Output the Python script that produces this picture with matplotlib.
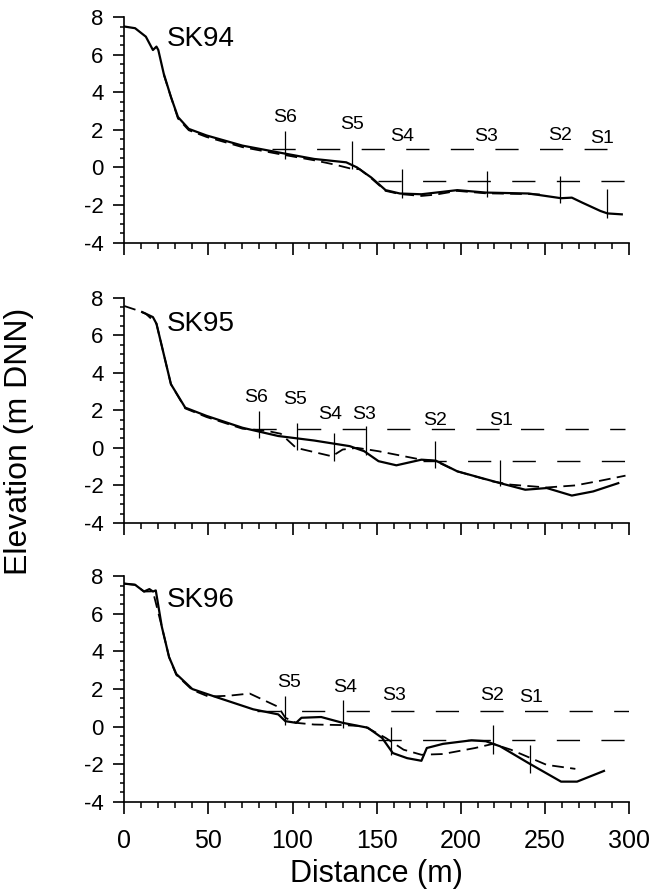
import matplotlib.pyplot as plt
from matplotlib.ticker import MultipleLocator

plt.rcParams['font.family'] = ['Liberation Sans', 'DejaVu Sans']
plt.rcParams['axes.unicode_minus'] = False

names = ['SK94', 'SK95', 'SK96']

# measured profile (solid)
sk94_x = [0, 6.4, 12.8, 17.0, 19.1, 20.2, 23.4, 27.7, 31.9, 38.3, 48.9, 70.2, 91.5, 112.8,
          131.9, 138.3, 146.8, 155.3, 163.8, 176.6, 197.9, 214.9, 240.4, 259.6, 266.0,
          272.3, 283.0, 287.2, 295.7]
sk94_z = [7.5, 7.41, 6.96, 6.25, 6.43, 6.25, 5.0, 3.75, 2.68, 2.05, 1.70, 1.16, 0.80, 0.45,
          0.27, 0.0, -0.54, -1.21, -1.39, -1.43, -1.21, -1.34, -1.39, -1.64, -1.61,
          -1.88, -2.32, -2.45, -2.5]
sk95_x = [10.6, 17.0, 19.1, 23.4, 27.7, 36.2, 48.9, 70.2, 91.5, 112.8, 134.0, 142.6, 151.1,
          161.7, 176.6, 185.1, 197.9, 223.4, 238.3, 251.1, 266.0, 278.7, 293.6]
sk95_z = [7.23, 6.96, 6.61, 5.0, 3.39, 2.14, 1.70, 1.07, 0.63, 0.39, 0.09, -0.18, -0.71,
          -0.93, -0.63, -0.68, -1.25, -1.88, -2.23, -2.14, -2.54, -2.32, -1.88]
sk96_x = [0, 6.4, 11.7, 14.9, 17.0, 18.7, 22.3, 26.6, 30.9, 40.4, 55.3, 76.6, 91.5, 95.7,
          102.1, 105.3, 117.0, 129.8, 144.7, 153.2, 159.6, 168.1, 176.6, 179.8, 189.4,
          206.4, 214.9, 223.4, 240.4, 259.6, 269.1, 285.1]
sk96_z = [7.61, 7.55, 7.19, 7.32, 7.19, 7.25, 5.31, 3.70, 2.80, 2.0, 1.55, 0.92, 0.65, 0.29,
          0.2, 0.47, 0.51, 0.2, -0.06, -0.6, -1.41, -1.68, -1.82, -1.14, -0.92,
          -0.73, -0.78, -1.05, -1.95, -2.93, -2.93, -2.36]

# second profile (dashed)
sk94_dx = [23.4, 31.9, 38.3, 48.9, 70.2, 91.5, 112.8, 125.0, 134.0, 140.0, 146.8, 155.3,
           163.8, 176.6, 185.0, 197.9, 214.9, 240.4, 250.0]
sk94_dz = [4.95, 2.6, 1.98, 1.62, 1.08, 0.72, 0.38, 0.15, -0.05, -0.1, -0.58, -1.25,
           -1.42, -1.52, -1.45, -1.25, -1.38, -1.42, -1.45]
sk95_dx = [0, 6.4, 12.8, 19.1, 23.4, 27.7, 36.2, 48.9, 70.2, 85.0, 93.0, 102.1, 123.4,
           129.8, 138.3, 151.1, 176.6, 185.1, 197.9, 219.1, 229.8, 251.1, 268.1, 283.0, 297.9]
sk95_dz = [7.55, 7.36, 7.14, 6.61, 5.0, 3.39, 2.1, 1.64, 1.02, 0.9, 0.75, 0.0, -0.45,
           -0.09, 0.0, -0.18, -0.63, -0.71, -1.25, -1.79, -1.96, -2.11, -2.0, -1.75, -1.48]
sk96_dx = [0, 6.4, 11.7, 17.0, 22.3, 26.6, 30.9, 40.4, 50.0, 61.7, 74.5, 91.5, 95.7, 102.1,
           112.8, 129.8, 142.6, 155.3, 166.0, 176.6, 189.4, 208.5, 219.1, 229.8, 251.1, 268.1]
sk96_dz = [7.61, 7.55, 7.19, 7.2, 5.31, 3.70, 2.75, 1.95, 1.6, 1.64, 1.76, 1.05, 0.47, 0.2,
           0.11, 0.08, 0.02, -0.6, -1.23, -1.5, -1.46, -1.14, -0.92, -1.23, -2.04, -2.25]

# water levels (dashed horizontals)
upper_z = [1.0, 1.0, 0.85]
upper_x = [(87.9, 287.2), (76.6, 297.9), (78.7, 300.0)]
lower_z = [-0.7, -0.68, -0.69]
lower_x = [(151.0, 297.9), (177.7, 297.9), (151.0, 297.9)]

# survey sections
sk94_sec = ['S6', 'S5', 'S4', 'S3', 'S2', 'S1']
sk94_sec_x = [95.3, 135.5, 164.9, 215.3, 258.9, 287.2]
sk94_sec_top = [1.96, 1.39, -0.09, -0.18, -0.45, -1.16]
sk94_sec_bot = [0.45, -0.09, -1.61, -1.57, -1.88, -2.68]
sk94_lab_x = [95.3, 135.5, 164.9, 215.3, 258.9, 284.0]
sk94_lab_z = [2.68, 2.29, 1.64, 1.64, 1.70, 1.52]

sk95_sec = ['S6', 'S5', 'S4', 'S3', 'S2', 'S1']
sk95_sec_x = [79.8, 102.8, 124.9, 143.6, 184.7, 223.4]
sk95_sec_top = [1.96, 1.34, 0.80, 1.16, 0.36, -0.63]
sk95_sec_bot = [0.54, -0.09, -0.71, -0.36, -1.07, -2.05]
sk95_lab_x = [78.3, 101.7, 122.3, 142.6, 184.7, 223.8]
sk95_lab_z = [2.68, 2.59, 1.75, 1.79, 1.43, 1.43]

sk96_sec = ['S5', 'S4', 'S3', 'S2', 'S1']
sk96_sec_x = [95.3, 129.8, 158.5, 219.1, 241.1]
sk96_sec_top = [1.64, 1.41, -0.03, 0.11, -0.96]
sk96_sec_bot = [0.11, -0.06, -1.50, -1.46, -2.48]
sk96_lab_x = [97.9, 131.5, 160.6, 218.7, 241.5]
sk96_lab_z = [2.35, 2.09, 1.64, 1.64, 1.55]

name_z = [6.82, 6.6, 6.75]

solid = [(sk94_x, sk94_z), (sk95_x, sk95_z), (sk96_x, sk96_z)]
dashed = [(sk94_dx, sk94_dz), (sk95_dx, sk95_dz), (sk96_dx, sk96_dz)]
sections = [(sk94_sec, sk94_sec_x, sk94_sec_top, sk94_sec_bot, sk94_lab_x, sk94_lab_z),
            (sk95_sec, sk95_sec_x, sk95_sec_top, sk95_sec_bot, sk95_lab_x, sk95_lab_z),
            (sk96_sec, sk96_sec_x, sk96_sec_top, sk96_sec_bot, sk96_lab_x, sk96_lab_z)]

fig = plt.figure(figsize=(6.62, 8.92), dpi=100)
left, width = 0.1878, 0.7624
bottoms = [0.7281, 0.4137, 0.1012]
height = 0.2527

for i in range(3):
    ax = fig.add_axes([left, bottoms[i], width, height])

    ax.plot(*solid[i], color='black', lw=1.6, solid_joinstyle='round')
    ax.plot(*dashed[i], color='black', lw=1.3, dashes=(6.5, 3.5))

    ax.plot(upper_x[i], [upper_z[i]] * 2, color='black', lw=1.0, dashes=(16.7, 15.4))
    ax.plot(lower_x[i], [lower_z[i]] * 2, color='black', lw=1.0, dashes=(16.7, 15.4))

    sec, sx, stop, sbot, lx, lz = sections[i]
    ax.vlines(sx, sbot, stop, color='black', lw=0.9)
    for s, x, z in zip(sec, lx, lz):
        ax.text(x, z, s, ha='center', va='center', fontsize=14)

    ax.text(25.5, name_z[i], names[i], ha='left', va='center', fontsize=20)

    ax.set_xlim(0, 300)
    ax.set_ylim(-4, 8)
    ax.spines['top'].set_visible(False)
    ax.spines['right'].set_visible(False)
    ax.spines['left'].set_linewidth(1.2)
    ax.spines['bottom'].set_linewidth(1.2)
    ax.xaxis.set_major_locator(MultipleLocator(50))
    ax.xaxis.set_minor_locator(MultipleLocator(10))
    ax.yaxis.set_major_locator(MultipleLocator(2))
    ax.yaxis.set_minor_locator(MultipleLocator(0.5))
    ax.tick_params(axis='x', which='major', length=8.5, width=1.2, pad=11, labelsize=18)
    ax.tick_params(axis='x', which='minor', length=4, width=1.1)
    ax.tick_params(axis='y', which='major', length=8, width=1.2, pad=7, labelsize=16)
    ax.tick_params(axis='y', which='minor', length=3.2, width=1.1)
    if i < 2:
        ax.tick_params(axis='x', labelbottom=False)

fig.text(left + width / 2, 0.02, 'Distance (m)', ha='center', va='center', fontsize=22)
fig.text(0.028, 0.505, 'Elevation (m DNN)', ha='center', va='center', rotation=90,
         fontsize=23)

fig.savefig('out.png', dpi=100)
